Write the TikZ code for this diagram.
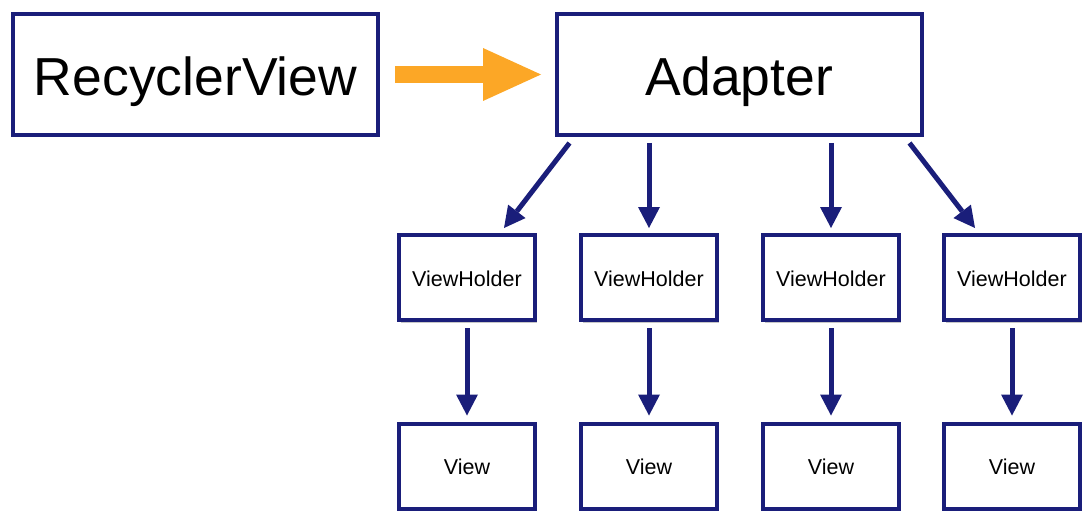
\documentclass[tikz,border=0pt]{standalone}
\usepackage{fontspec}
\setmainfont{Liberation Sans}
\usetikzlibrary{arrows.meta,shadows}
\definecolor{navy}{RGB}{26,30,122}
\definecolor{amber}{RGB}{252,167,38}
\begin{document}
\begin{tikzpicture}[x=1pt,y=-1pt,
  box/.style={draw=navy,line width=4pt,fill=white,inner sep=0pt,
    drop shadow={shadow xshift=1.5pt,shadow yshift=-2.5pt,opacity=0.22,fill=black}},
  bigbox/.style={box,minimum width=365pt,minimum height=121pt,text height=53pt,text depth=11pt,font=\fontsize{53.5}{60}\selectfont},
  smallbox/.style={box,minimum width=136pt,minimum height=85pt,text height=17pt,text depth=0pt,font=\fontsize{21.5}{26}\selectfont},
  link/.style={draw=navy,line width=5pt,-{Triangle[width=22pt,length=21pt,line width=0pt]}},
  feed/.style={draw=amber,line width=17pt,-{Triangle[width=53pt,length=58pt,line width=0pt]}}]
\useasboundingbox (0,0) rectangle (1090,524);
\node[bigbox] (rv) at (195.5,74.5) {RecyclerView};
\node[bigbox] (ad) at (739.5,74.5) {Adapter};
\foreach \i/\x in {1/467,2/649,3/831,4/1012}{
  \node[smallbox] (vh\i) at (\x,277.5) {ViewHolder};
  \node[smallbox] (v\i) at (\x,466) {View};
}
\draw[feed] ([xshift=15pt]rv.east) -- ([xshift=-14pt]ad.west);
\draw[link] ([xshift=-170pt,yshift=-6pt]ad.south) -- ([xshift=37pt,yshift=5pt]vh1.north);
\draw[link,shorten <=6pt,shorten >=5pt] (vh2.north |- ad.south) -- (vh2.north);
\draw[link,shorten <=6pt,shorten >=5pt] (vh3.north |- ad.south) -- (vh3.north);
\draw[link] ([xshift=170pt,yshift=-6pt]ad.south) -- ([xshift=-37pt,yshift=5pt]vh4.north);
\foreach \i in {1,2,3,4}{
  \draw[link,shorten <=6pt,shorten >=6pt] (vh\i.south) -- (v\i.north);
}
\end{tikzpicture}
\end{document}
